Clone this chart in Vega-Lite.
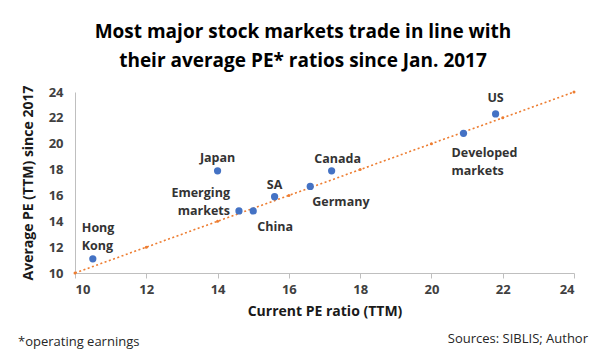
{
  "$schema": "https://vega.github.io/schema/vega-lite/v6.json",
  "width": 499,
  "height": 181,
  "autosize": "none",
  "padding": {"left": 75, "top": 92, "right": 26, "bottom": 88},
  "background": "white",
  "title": {
    "text": ["Most major stock markets trade in line with", "their average PE* ratios since Jan. 2017"],
    "font": "Open Sans",
    "fontSize": 19,
    "fontWeight": "bold",
    "color": "#000000",
    "anchor": "middle",
    "frame": "bounds",
    "lineHeight": 29,
    "offset": 14
  },
  "config": {
    "view": {"stroke": null},
    "axis": {
      "grid": false,
      "labelOverlap": false,
      "domainColor": "#bfbfbf",
      "tickColor": "#bfbfbf",
      "labelFont": "Open Sans",
      "labelFontSize": 13,
      "labelFontWeight": "bold",
      "labelColor": "#404040",
      "titleFont": "Open Sans",
      "titleFontSize": 14,
      "titleFontWeight": "bold",
      "titleColor": "#1a1a1a"
    },
    "text": {"font": "Open Sans"}
  },
  "datasets": {
    "markets": [
      {"market": "Hong Kong", "label": "Hong\nKong", "current_pe": 10.5, "avg_pe": 11.1},
      {"market": "Japan", "label": "Japan", "current_pe": 14.0, "avg_pe": 17.9},
      {"market": "Emerging markets", "label": "Emerging\nmarkets", "current_pe": 14.6, "avg_pe": 14.8},
      {"market": "China", "label": "China", "current_pe": 15.0, "avg_pe": 14.8},
      {"market": "SA", "label": "SA", "current_pe": 15.6, "avg_pe": 15.9},
      {"market": "Germany", "label": "Germany", "current_pe": 16.6, "avg_pe": 16.7},
      {"market": "Canada", "label": "Canada", "current_pe": 17.2, "avg_pe": 17.9},
      {"market": "Developed markets", "label": "Developed\nmarkets", "current_pe": 20.9, "avg_pe": 20.8},
      {"market": "US", "label": "US", "current_pe": 21.8, "avg_pe": 22.3}
    ],
    "trend": [
      {"current_pe": 10, "avg_pe": 10},
      {"current_pe": 12, "avg_pe": 12},
      {"current_pe": 14, "avg_pe": 14},
      {"current_pe": 16, "avg_pe": 16},
      {"current_pe": 18, "avg_pe": 18},
      {"current_pe": 20, "avg_pe": 20},
      {"current_pe": 22, "avg_pe": 22},
      {"current_pe": 24, "avg_pe": 24}
    ],
    "footnotes": [
      {"note": "*operating earnings", "credit": "Sources: SIBLIS; Author"}
    ]
  },
  "layer": [
    {
      "encoding": {
        "x": {
          "field": "current_pe",
          "type": "quantitative",
          "scale": {"domain": [10, 24], "nice": false, "zero": false},
          "axis": {
            "title": "Current PE ratio (TTM)",
            "values": [10, 12, 14, 16, 18, 20, 22, 24],
            "labelOverlap": false,
            "tickSize": 5,
            "labelPadding": 5,
            "titlePadding": 8
          }
        },
        "y": {
          "field": "avg_pe",
          "type": "quantitative",
          "scale": {"domain": [10, 24], "nice": false, "zero": false},
          "axis": {
            "title": "Average PE (TTM) since 2017",
            "values": [10, 12, 14, 16, 18, 20, 22, 24],
            "labelOverlap": false,
            "ticks": false,
            "labelPadding": 12,
            "titlePadding": 13
          }
        }
      },
      "layer": [
        {
          "data": {"name": "trend"},
          "mark": {
            "type": "line",
            "color": "#ED7D31",
            "strokeWidth": 1.6,
            "strokeDash": [2, 2.5],
            "point": {"filled": true, "color": "#ED7D31", "size": 9}
          }
        },
        {
          "data": {"name": "markets"},
          "mark": {"type": "circle", "color": "#4472C4", "size": 52, "opacity": 1}
        },
        {
          "data": {"name": "markets"},
          "transform": [{"filter": "datum.market === 'Hong Kong'"}],
          "mark": {"type": "text", "align": "left", "baseline": "middle", "dx": -11, "dy": -31, "fontSize": 12.5, "fontWeight": "bold", "color": "#333333", "lineBreak": "\n", "lineHeight": 18},
          "encoding": {"text": {"field": "label"}}
        },
        {
          "data": {"name": "markets"},
          "transform": [{"filter": "datum.market === 'Japan'"}],
          "mark": {"type": "text", "align": "center", "baseline": "middle", "dy": -13, "fontSize": 12.5, "fontWeight": "bold", "color": "#333333"},
          "encoding": {"text": {"field": "label"}}
        },
        {
          "data": {"name": "markets"},
          "transform": [{"filter": "datum.market === 'Emerging markets'"}],
          "mark": {"type": "text", "align": "right", "baseline": "middle", "dx": -9, "dy": -18, "fontSize": 12.5, "fontWeight": "bold", "color": "#333333", "lineBreak": "\n", "lineHeight": 18},
          "encoding": {"text": {"field": "label"}}
        },
        {
          "data": {"name": "markets"},
          "transform": [{"filter": "datum.market === 'China'"}],
          "mark": {"type": "text", "align": "left", "baseline": "middle", "dx": 4, "dy": 16, "fontSize": 12.5, "fontWeight": "bold", "color": "#333333"},
          "encoding": {"text": {"field": "label"}}
        },
        {
          "data": {"name": "markets"},
          "transform": [{"filter": "datum.market === 'SA'"}],
          "mark": {"type": "text", "align": "center", "baseline": "middle", "dy": -12, "fontSize": 12.5, "fontWeight": "bold", "color": "#333333"},
          "encoding": {"text": {"field": "label"}}
        },
        {
          "data": {"name": "markets"},
          "transform": [{"filter": "datum.market === 'Canada'"}],
          "mark": {"type": "text", "align": "center", "baseline": "middle", "dx": 6, "dy": -12, "fontSize": 12.5, "fontWeight": "bold", "color": "#333333"},
          "encoding": {"text": {"field": "label"}}
        },
        {
          "data": {"name": "markets"},
          "transform": [{"filter": "datum.market === 'Germany'"}],
          "mark": {"type": "text", "align": "left", "baseline": "middle", "dx": 2, "dy": 16, "fontSize": 12.5, "fontWeight": "bold", "color": "#333333"},
          "encoding": {"text": {"field": "label"}}
        },
        {
          "data": {"name": "markets"},
          "transform": [{"filter": "datum.market === 'Developed markets'"}],
          "mark": {"type": "text", "align": "left", "baseline": "middle", "dx": -12, "dy": 20, "fontSize": 12.5, "fontWeight": "bold", "color": "#333333", "lineBreak": "\n", "lineHeight": 18},
          "encoding": {"text": {"field": "label"}}
        },
        {
          "data": {"name": "markets"},
          "transform": [{"filter": "datum.market === 'US'"}],
          "mark": {"type": "text", "align": "center", "baseline": "middle", "dy": -16, "fontSize": 12.5, "fontWeight": "bold", "color": "#333333"},
          "encoding": {"text": {"field": "label"}}
        }
      ]
    },
    {
      "data": {"name": "footnotes"},
      "encoding": {
        "x": {
          "datum": 10,
          "type": "quantitative",
          "scale": {"domain": [10, 24], "nice": false, "zero": false},
          "axis": {
            "title": "Current PE ratio (TTM)",
            "values": [10, 12, 14, 16, 18, 20, 22, 24],
            "labelOverlap": false,
            "tickSize": 5,
            "labelPadding": 5,
            "titlePadding": 8
          }
        },
        "y": {
          "datum": 10,
          "type": "quantitative",
          "scale": {"domain": [10, 24], "nice": false, "zero": false},
          "axis": {
            "title": "Average PE (TTM) since 2017",
            "values": [10, 12, 14, 16, 18, 20, 22, 24],
            "labelOverlap": false,
            "ticks": false,
            "labelPadding": 12,
            "titlePadding": 13
          }
        }
      },
      "layer": [
        {
          "mark": {"type": "text", "align": "left", "baseline": "middle", "dx": -57, "dy": 69, "fontSize": 13, "color": "#262626"},
          "encoding": {"text": {"field": "note", "type": "nominal"}}
        },
        {
          "mark": {"type": "text", "align": "right", "baseline": "middle", "dx": 14, "dy": 66, "fontSize": 13, "color": "#262626"},
          "encoding": {
            "x": {"datum": 24, "type": "quantitative"},
            "text": {"field": "credit", "type": "nominal"}
          }
        }
      ]
    }
  ]
}
